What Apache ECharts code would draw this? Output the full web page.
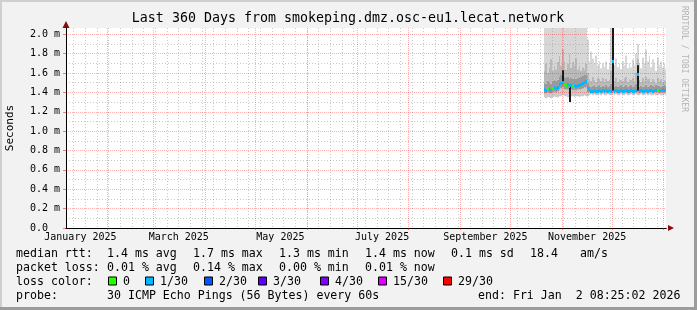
<!DOCTYPE html>
<html><head><meta charset="utf-8">
<script src="https://cdn.jsdelivr.net/npm/echarts@6/dist/echarts.min.js"></script>
<style>html,body{margin:0;padding:0;background:#f2f2f2;overflow:hidden}#c{width:697px;height:310px}</style>
</head><body><div id="c"></div>
<script>
// ---------------- data ----------------
const titleText = 'Last 360 Days from smokeping.dmz.osc-eu1.lecat.network';
const endTime = '2026-01-02T08:25:02Z';
const spanDays = 360;
const firstBinDay = '2025-10-21';
const firstGridSunday = '2025-01-12';
const monthStarts = ['2025-02-01','2025-03-01','2025-04-01','2025-05-01','2025-06-01','2025-07-01',
  '2025-08-01','2025-09-01','2025-10-01','2025-11-01','2025-12-01','2026-01-01'];
const labelMonths = ['2025-01-01','2025-03-01','2025-05-01','2025-07-01','2025-09-01','2025-11-01'];
const labelNames = ['January 2025','March 2025','May 2025','July 2025','September 2025','November 2025'];
const yMajorTicks = [0,0.2,0.4,0.6,0.8,1.0,1.2,1.4,1.6,1.8,2.0];
const yMinorTicks = [0.1,0.3,0.5,0.7,0.9,1.1,1.3,1.5,1.7,1.9];
const yMax = 2.065;

const median = [
1.43,1.42,1.44,1.43,1.42,1.44,1.45,1.44,1.45,1.48,
1.49,1.50,1.48,1.47,1.48,1.46,1.47,1.46,1.47,1.46,
1.47,1.47,1.48,1.49,1.50,1.51,1.44,1.42,1.41,1.41,
1.42,1.41,1.41,1.42,1.41,1.42,1.41,1.42,1.41,1.42,
1.41,1.72,1.41,1.42,1.41,1.41,1.42,1.41,1.41,1.42,
1.41,1.41,1.42,1.41,1.41,1.42,1.59,1.41,1.42,1.41,
1.41,1.42,1.41,1.42,1.42,1.41,1.42,1.42,1.42,1.41,
1.42,1.42,1.42,1.42];
const lossLevel = [
1,1,0,1,1,0,1,1,1,1,
1,1,0,0,1,1,1,0,1,1,
1,1,1,1,1,1,1,1,1,1,
1,1,1,1,1,1,1,1,1,1,
1,1,1,1,1,1,1,1,1,1,
1,1,1,1,1,1,1,1,1,1,
1,1,1,1,1,1,1,1,0,1,
1,1,1,1];
const smokeMin = [
1.35,1.34,1.35,1.35,1.34,1.35,1.36,1.35,1.35,1.36,
1.36,1.37,1.36,1.36,1.35,1.30,1.36,1.36,1.35,1.36,
1.36,1.35,1.36,1.36,1.37,1.36,1.36,1.37,1.38,1.37,
1.38,1.37,1.37,1.38,1.37,1.38,1.37,1.37,1.38,1.37,
1.37,1.38,1.37,1.38,1.37,1.37,1.38,1.37,1.37,1.38,
1.37,1.37,1.38,1.37,1.37,1.38,1.37,1.37,1.38,1.37,
1.37,1.38,1.37,1.38,1.37,1.37,1.38,1.37,1.37,1.38,
1.37,1.37,1.38,1.37];
const smokeQ1 = [
1.39,1.39,1.40,1.39,1.39,1.40,1.41,1.40,1.41,1.43,
1.44,1.45,1.43,1.43,1.43,1.38,1.43,1.42,1.43,1.42,
1.43,1.43,1.43,1.44,1.45,1.45,1.40,1.40,1.39,1.39,
1.40,1.39,1.39,1.40,1.39,1.40,1.39,1.40,1.39,1.40,
1.39,1.40,1.39,1.40,1.39,1.39,1.40,1.39,1.39,1.40,
1.39,1.39,1.40,1.39,1.39,1.40,1.40,1.39,1.40,1.39,
1.39,1.40,1.39,1.40,1.40,1.39,1.40,1.40,1.40,1.39,
1.40,1.40,1.40,1.40];
const smokeQ3 = [
1.50,1.49,1.52,1.50,1.49,1.52,1.53,1.52,1.53,1.56,
1.58,1.62,1.56,1.55,1.56,1.54,1.55,1.54,1.55,1.54,
1.55,1.55,1.56,1.57,1.58,1.58,1.50,1.47,1.46,1.47,
1.48,1.46,1.47,1.48,1.46,1.47,1.46,1.48,1.46,1.47,
1.49,1.60,1.46,1.47,1.46,1.47,1.48,1.46,1.47,1.48,
1.46,1.47,1.48,1.46,1.47,1.49,1.55,1.46,1.47,1.46,
1.47,1.48,1.46,1.47,1.48,1.47,1.46,1.48,1.47,1.47,
1.46,1.47,1.48,1.47];
const smokeP90 = [
1.62,1.70,1.60,1.66,1.75,1.62,1.68,1.64,1.72,1.78,
1.68,1.85,1.72,1.64,1.70,1.80,1.66,1.72,1.68,1.76,
1.64,1.68,1.62,1.66,1.64,1.70,1.60,1.54,1.52,1.56,
1.53,1.51,1.55,1.54,1.52,1.55,1.51,1.54,1.52,1.53,
1.62,1.85,1.52,1.55,1.51,1.54,1.53,1.52,1.55,1.56,
1.51,1.54,1.53,1.55,1.52,1.60,1.75,1.53,1.51,1.55,
1.52,1.56,1.54,1.55,1.51,1.54,1.52,1.50,1.55,1.52,
1.54,1.51,1.53,1.52];
const smokeMax = [
2.2,2.2,2.2,2.2,2.2,2.2,2.2,2.2,2.2,2.2,
2.2,2.2,2.2,2.2,2.2,2.2,2.2,2.2,2.2,2.2,
2.2,2.2,2.2,2.2,2.2,2.2,1.95,1.72,1.82,1.75,
1.70,1.78,1.68,1.72,1.65,1.70,1.66,1.72,1.64,1.70,
2.2,2.2,1.68,1.75,1.66,1.70,1.64,1.72,1.68,1.78,
1.65,1.70,1.66,1.74,1.68,1.80,1.90,1.70,1.65,1.76,
1.70,1.84,1.72,1.78,1.66,1.74,1.70,1.62,1.76,1.68,
1.72,1.66,1.70,1.64];
const spikeDates = ['2025-11-01','2025-11-05','2025-12-01','2025-12-16'];
const spikeLow = [1.50,1.30,1.42,1.42];
const spikeHigh = [1.63,1.46,2.20,1.68];

const rttStats = ['1.4 ms avg','1.7 ms max','1.3 ms min','1.4 ms now','0.1 ms sd','18.4','am/s'];
const lossStats = ['0.01 % avg','0.14 % max','0.00 % min','0.01 % now'];
const lossLabels = ['0','1/30','2/30','3/30','4/30','15/30','29/30'];
const lossColors = ['#26ff00','#00b8ff','#0059ff','#5e00ff','#7e00ff','#dd00ff','#ff0000'];
const probeText = '30 ICMP Echo Pings (56 Bytes) every 60s';
const endText = 'end: Fri Jan  2 08:25:02 2026';

// ---------------- build ----------------
const DAY = 86400000;
const day = s => Date.parse(s + 'T00:00:00Z');
const tEnd = Date.parse(endTime);
const tStart = tEnd - spanDays * DAY;
const bin0 = day(firstBinDay);
const weekLines = [];
for (let t = day(firstGridSunday); t < tEnd; t += 7 * DAY) weekLines.push(t);
const monthLines = monthStarts.map(day);
const labelPos = labelMonths.map(s => day(s) + 15 * DAY);

const smokeData = median.map((m, i) => {
  const t0 = bin0 + i * DAY, t1 = Math.min(t0 + DAY, tEnd);
  return [t0, t1, smokeMin[i], smokeQ1[i], smokeQ3[i], smokeP90[i], smokeMax[i]];
});
const medianData = median.map((m, i) => {
  const t0 = bin0 + i * DAY, t1 = Math.min(t0 + DAY, tEnd);
  return [t0, t1, m, lossLevel[i]];
});
const spikeData = spikeDates.map((d, k) => [day(d), day(d) + DAY, spikeLow[k], spikeHigh[k]]);

const FONT = 'DejaVu Sans Mono';
const smokeColors = ['#cbcbcb', '#9a9a9a', '#b9b9b9', '#d7d7d7'];

function clip(r, cs) {
  return echarts.graphic.clipRectByRect(r, {x: cs.x, y: cs.y, width: cs.width, height: cs.height});
}
function xs(api) {
  return [Math.round(api.coord([api.value(0), 0])[0]), Math.round(api.coord([api.value(1), 0])[0])];
}
function renderSmoke(params, api) {
  const [x0, x1] = xs(api);
  const children = [];
  for (let b = 0; b < 4; b++) {
    const ya = api.coord([api.value(0), api.value(2 + b)])[1];
    const yb = api.coord([api.value(0), api.value(3 + b)])[1];
    const r = clip({x: x0, y: yb, width: Math.max(1, x1 - x0), height: ya - yb}, params.coordSys);
    if (r) children.push({type: 'rect', shape: r, style: {fill: smokeColors[b]}});
  }
  return {type: 'group', children};
}
function renderSpike(params, api) {
  const [x0, x1] = xs(api);
  const ya = api.coord([api.value(0), api.value(2)])[1];
  const yb = api.coord([api.value(0), api.value(3)])[1];
  const r = clip({x: x0, y: yb, width: Math.max(2, x1 - x0), height: ya - yb}, params.coordSys);
  return r ? {type: 'rect', shape: r, style: {fill: '#1a1a1a'}} : null;
}
function renderMedian(params, api) {
  const [x0, x1] = xs(api);
  const y = api.coord([api.value(0), api.value(2)])[1];
  return {type: 'rect', shape: {x: x0, y: Math.round(y - 1.5), width: Math.max(1, x1 - x0), height: 3},
    style: {fill: lossColors[api.value(3)]}};
}

const gridMinor = {color: 'rgba(150,150,150,0.5)', width: 1, type: [1, 2]};
const gridMajor = {color: 'rgba(255,0,0,0.3)', width: 1, type: [1, 1]};
const darkRed = '#8b0a0a';

const graphics = [
  {type: 'rect', shape: {x: 0, y: 0, width: 697, height: 2}, style: {fill: '#cfcfcf'}, silent: true},
  {type: 'rect', shape: {x: 0, y: 0, width: 2, height: 310}, style: {fill: '#cfcfcf'}, silent: true},
  {type: 'rect', shape: {x: 694, y: 0, width: 3, height: 310}, style: {fill: '#9c9c9c'}, silent: true},
  {type: 'rect', shape: {x: 0, y: 307, width: 697, height: 3}, style: {fill: '#9c9c9c'}, silent: true},
  {type: 'text', x: 348, y: 19, style: {text: titleText, font: '13.3px "' + FONT + '"', fill: '#000', align: 'center', verticalAlign: 'middle'}},
  {type: 'text', x: 10, y: 128, rotation: Math.PI / 2, style: {text: 'Seconds', font: '11px "' + FONT + '"', fill: '#000', align: 'center', verticalAlign: 'middle'}},
  {type: 'text', x: 684, y: 59, rotation: -Math.PI / 2, style: {text: 'RRDTOOL / TOBI OETIKER', font: '8px "' + FONT + '"', fill: '#b4b4b4', align: 'center', verticalAlign: 'middle'}}
];
const LF = '11.6px "' + FONT + '"';
function txt(x, y, s) {
  graphics.push({type: 'text', x, y, style: {text: s, font: LF, fill: '#000', align: 'left', verticalAlign: 'middle'}});
}
const row = [253.5, 267.5, 281.5, 295.5];
const statX = [107, 193, 279, 365, 451, 530, 580];
txt(16, row[0], 'median rtt:');
rttStats.forEach((s, k) => txt(statX[k], row[0], s));
txt(16, row[1], 'packet loss:');
lossStats.forEach((s, k) => txt(statX[k], row[1], s));
txt(16, row[2], 'loss color:');
const boxX = [108, 145, 204, 258, 320, 378, 443];
lossLabels.forEach((s, k) => {
  graphics.push({type: 'rect', shape: {x: boxX[k] + 0.5, y: row[2] - 4.5, width: 8, height: 8},
    style: {fill: lossColors[k], stroke: '#000', lineWidth: 1}});
  txt(boxX[k] + 15, row[2], s);
});
txt(16, row[3], 'probe:');
txt(107, row[3], probeText);
txt(478, row[3], endText);

const chart = echarts.init(document.getElementById('c'), null, {renderer: 'canvas'});
chart.setOption({
  animation: false,
  backgroundColor: '#f2f2f2',
  grid: {left: 66, right: 31, top: 28, bottom: 82, show: true, backgroundColor: '#ffffff', borderWidth: 0, outerBoundsMode: 'none', containLabel: false},
  xAxis: [
    {type: 'value', min: tStart, max: tEnd, position: 'bottom', z: 3,
      axisLine: {show: true, lineStyle: {color: darkRed, width: 1}, symbol: ['none', 'triangle'], symbolSize: [6, 6], symbolOffset: [0, 5]},
      axisTick: {show: false, customValues: weekLines},
      axisLabel: {show: false},
      splitLine: {show: true, lineStyle: gridMinor}},
    {type: 'value', min: tStart, max: tEnd, position: 'bottom', z: 4,
      axisLine: {show: true, onZero: false, lineStyle: {color: '#000', width: 1}},
      axisTick: {show: true, length: 2, customValues: monthLines, lineStyle: {color: 'rgba(255,0,0,0.5)'}},
      axisLabel: {show: true, customValues: labelPos, margin: 4, fontFamily: FONT, fontSize: 10, color: '#000',
        formatter: v => {
          let best = 0;
          labelPos.forEach((p, k) => { if (Math.abs(p - v) < Math.abs(labelPos[best] - v)) best = k; });
          return labelNames[best];
        }},
      splitLine: {show: true, lineStyle: gridMajor}}
  ],
  yAxis: [
    {type: 'value', min: 0, max: yMax, position: 'left', z: 3,
      axisLine: {show: true, lineStyle: {color: darkRed, width: 1}, symbol: ['none', 'triangle'], symbolSize: [7, 7], symbolOffset: [0, 3.5]},
      axisTick: {show: false, customValues: yMinorTicks},
      axisLabel: {show: false},
      splitLine: {show: true, lineStyle: gridMinor}},
    {type: 'value', min: 0, max: yMax, position: 'left', z: 4,
      axisLine: {show: true, onZero: false, lineStyle: {color: '#000', width: 1}},
      axisTick: {show: true, length: 3, customValues: yMajorTicks, lineStyle: {color: 'rgba(255,0,0,0.5)'}},
      axisLabel: {show: true, customValues: yMajorTicks, margin: 36, align: 'left', fontFamily: FONT, fontSize: 10, color: '#000',
        formatter: v => v === 0 ? '0.0' : v.toFixed(1) + ' m'},
      splitLine: {show: true, lineStyle: gridMajor}}
  ],
  series: [
    {type: 'custom', name: 'smoke', xAxisIndex: 1, yAxisIndex: 1, z: 2, silent: true,
      renderItem: renderSmoke, data: smokeData, encode: {x: [0, 1], y: [2, 3, 4, 5, 6]}},
    {type: 'custom', name: 'spikes', xAxisIndex: 1, yAxisIndex: 1, z: 6, silent: true,
      renderItem: renderSpike, data: spikeData, encode: {x: [0, 1], y: [2, 3]}},
    {type: 'custom', name: 'median', xAxisIndex: 1, yAxisIndex: 1, z: 7, silent: true,
      renderItem: renderMedian, data: medianData, encode: {x: [0, 1], y: [2]}}
  ],
  graphic: graphics
});
</script></body></html>
